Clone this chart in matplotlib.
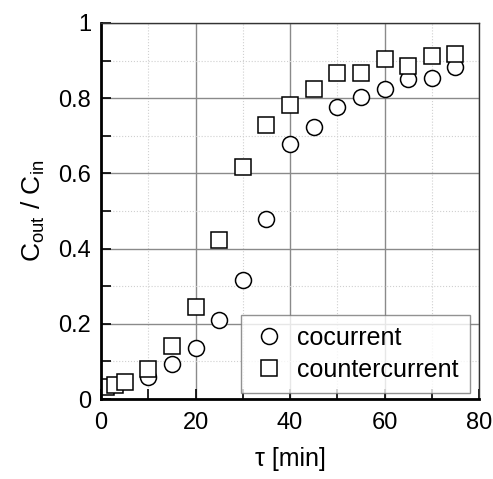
import matplotlib
matplotlib.use("Agg")
import matplotlib.pyplot as plt
from matplotlib.ticker import MultipleLocator

plt.rcParams['font.family'] = ['Liberation Sans', 'DejaVu Sans']
plt.rcParams['mathtext.fontset'] = 'custom'
plt.rcParams['mathtext.rm'] = 'Liberation Sans'

# cocurrent
t_co = [10, 15, 20, 25, 30, 35, 40, 45, 50, 55, 60, 65, 70, 75]
c_co = [0.059, 0.093, 0.136, 0.21, 0.316, 0.478, 0.678, 0.724, 0.777, 0.802, 0.824, 0.85, 0.855, 0.884]
# countercurrent
t_cc = [1, 3, 5, 10, 15, 20, 25, 30, 35, 40, 45, 50, 55, 60, 65, 70, 75]
c_cc = [0.031, 0.037, 0.046, 0.079, 0.141, 0.245, 0.423, 0.616, 0.728, 0.783, 0.825, 0.866, 0.866, 0.903, 0.886, 0.912, 0.917]

xticks = [0, 20, 40, 60, 80]
xticklabels = ['0', '20', '40', '60', '80']
yticks = [0, 0.2, 0.4, 0.6, 0.8, 1.0]
yticklabels = ['0', '0.2', '0.4', '0.6', '0.8', '1']

fig = plt.figure(figsize=(4.93, 4.79), dpi=100)
ax = fig.add_axes([0.2049, 0.167, 0.7667, 0.785])

ax.plot(t_co, c_co, 'o', ms=11.5, mfc='white', mec='black', mew=1.1, label='cocurrent')
ax.plot(t_cc, c_cc, 's', ms=11, mfc='white', mec='black', mew=1.1, label='countercurrent')

ax.set_xlim(0, 80)
ax.set_ylim(0, 1)
ax.set_xticks(xticks, xticklabels)
ax.set_yticks(yticks, yticklabels)
ax.xaxis.set_minor_locator(MultipleLocator(10))
ax.yaxis.set_minor_locator(MultipleLocator(0.1))

ax.grid(which='major', color='#8a8a8a', lw=1.0, ls='-')
ax.grid(which='minor', color='#d0d0d0', lw=0.8, ls=':')
ax.set_axisbelow(True)

ax.tick_params(which='both', direction='in', length=7, width=1.2, labelsize=17)
ax.tick_params(axis='x', pad=9)
ax.tick_params(axis='y', pad=7)

for s in ['left', 'bottom']:
    ax.spines[s].set_linewidth(2)
for s in ['top', 'right']:
    ax.spines[s].set_linewidth(1)
    ax.spines[s].set_color('#333333')

ax.set_xlabel('τ [min]', fontsize=18, labelpad=10)
ax.set_ylabel(r'C$_{\mathregular{out}}$ / C$_{\mathregular{in}}$', fontsize=19, labelpad=8)

leg = ax.legend(loc='lower right', bbox_to_anchor=(0.993, 0.0), fontsize=18, frameon=True,
                fancybox=False, edgecolor='#777777', handletextpad=0.5, borderpad=0.45,
                labelspacing=0.3, handlelength=1.3, borderaxespad=0.25)
leg.get_frame().set_linewidth(1.0)

fig.savefig('out.png', dpi=100)
